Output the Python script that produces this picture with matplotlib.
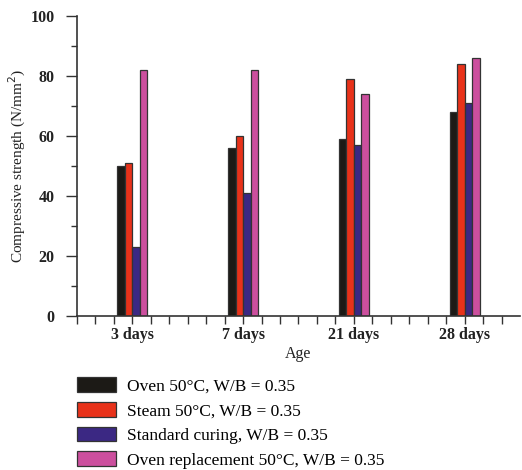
import numpy as np
import matplotlib
matplotlib.use("Agg")
import matplotlib.pyplot as plt
from matplotlib.ticker import MultipleLocator, FixedLocator
from matplotlib.patches import Patch

ages = ["3 days", "7 days", "21 days", "28 days"]
oven = [50, 56, 59, 68]
steam = [51, 60, 79, 84]
standard = [23, 41, 57, 71]
oven_replacement = [82, 82, 74, 86]

series_labels = [
    "Oven 50°C, W/B = 0.35",
    "Steam 50°C, W/B = 0.35",
    "Standard curing, W/B = 0.35",
    "Oven replacement 50°C, W/B = 0.35",
]
colors = ["#1c1a16", "#e8321a", "#3b2883", "#cc4f9e"]

plt.rcParams["font.family"] = ["Liberation Serif", "DejaVu Serif"]

fig = plt.figure(figsize=(5.22, 4.70), dpi=100)
ax = fig.add_axes([77 / 522, 1 - 316 / 470, 443 / 522, 300 / 470])

x = np.arange(len(ages))
w = 0.068
edge = "#333333"
for i, (vals, c) in enumerate(zip([oven, steam, standard, oven_replacement], colors)):
    ax.bar(x + (i - 1.5) * w, vals, width=w, color=c, edgecolor=edge, linewidth=0.9)

ax.set_xlim(-0.5, 3.5)
ax.set_ylim(0, 100)
ax.set_xticks(x)
ax.set_xticklabels(ages, fontsize=11.5, fontweight="bold", color="#222222")
ax.xaxis.set_minor_locator(FixedLocator(np.arange(-0.5, 3.5, 1 / 6)))
ax.yaxis.set_major_locator(MultipleLocator(20))
ax.yaxis.set_minor_locator(MultipleLocator(10))
ax.tick_params(axis="y", labelsize=11.5, colors="#222222", pad=8)
ax.tick_params(axis="x", pad=2)
for lab in ax.get_yticklabels():
    lab.set_fontweight("bold")
ax.tick_params(which="both", direction="out", width=1.0, color="#333333")
ax.tick_params(axis="x", which="both", length=6)
ax.tick_params(axis="y", which="major", length=8)
ax.tick_params(axis="y", which="minor", length=4)

for s in ["top", "right"]:
    ax.spines[s].set_visible(False)
for s in ["left", "bottom"]:
    ax.spines[s].set_color("#333333")
    ax.spines[s].set_linewidth(1.2)

ax.set_ylabel("Compressive strength (N/mm$^2$)", fontsize=11, color="#222222", labelpad=2)
ax.set_xlabel("Age", fontsize=11.5, color="#222222", labelpad=2)

handles = [Patch(facecolor=c, edgecolor=edge, linewidth=0.9) for c in colors]
fig.legend(handles, series_labels, loc="upper left", bbox_to_anchor=(73 / 522, 1 - 373 / 470),
           frameon=False, fontsize=12.5, handlelength=2.25, handleheight=0.93,
           handletextpad=0.6, labelspacing=0.42, borderaxespad=0, borderpad=0.25)

fig.savefig("out.png", dpi=100)
